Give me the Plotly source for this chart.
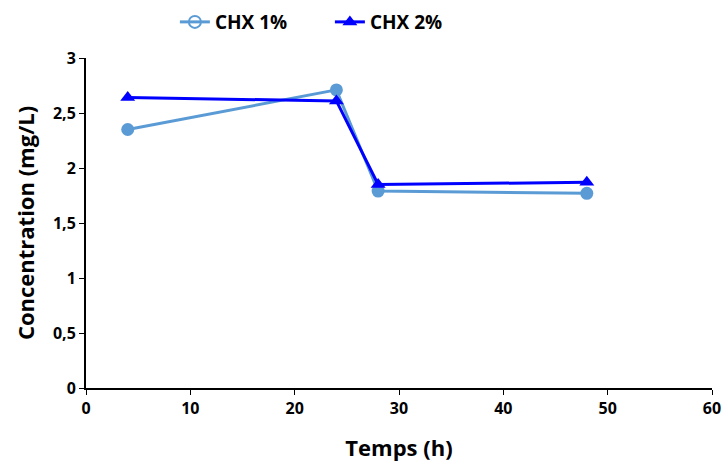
import plotly.graph_objects as go

hours = [4, 24, 28, 48]
chx1 = [2.35, 2.71, 1.79, 1.77]
chx2 = [2.64, 2.61, 1.85, 1.87]
x_ticks = [0, 10, 20, 30, 40, 50, 60]
y_ticks = [0, 0.5, 1, 1.5, 2, 2.5, 3]
y_labels = ["0", "0,5", "1", "1,5", "2", "2,5", "3"]

c1 = "#5B9BD5"
c2 = "#0000FF"
font = "Open Sans"

fig = go.Figure()
fig.add_trace(go.Scatter(x=hours, y=chx1, mode="lines+markers", name="CHX 1%",
                         line=dict(color=c1, width=3), marker=dict(symbol="circle", size=13, color=c1),
                         showlegend=False))
fig.add_trace(go.Scatter(x=[None], y=[None], mode="lines+markers", name="CHX 1%",
                         line=dict(color=c1, width=3),
                         marker=dict(symbol="circle-open", size=12, color=c1, line=dict(width=2))))
fig.add_trace(go.Scatter(x=hours, y=chx2, mode="lines+markers", name="CHX 2%",
                         line=dict(color=c2, width=3), marker=dict(symbol="triangle-up", size=13, color=c2)))

fig.update_layout(
    width=722, height=462,
    margin=dict(l=86, r=10, t=58, b=74, autoexpand=False),
    plot_bgcolor="white", paper_bgcolor="white",
    font=dict(family=font, size=14, color="black"),
    legend=dict(orientation="h", x=0.142, y=1.109, xanchor="left", yanchor="middle",
                font=dict(size=19, family=font, weight="bold"),
                entrywidthmode="pixels", entrywidth=110),
    xaxis=dict(range=[0, 60], tickvals=x_ticks, ticks="outside", ticklen=5, tickcolor="black",
               showline=True, linecolor="black", linewidth=2, showgrid=False, zeroline=False,
               tickfont=dict(size=16, weight="bold"),
               title=dict(text="Temps (h)", font=dict(size=22, weight="bold"), standoff=24)),
    yaxis=dict(range=[0, 3], tickvals=y_ticks, ticktext=y_labels, ticks="outside", ticklen=5,
               tickcolor="black", showline=True, linecolor="black", linewidth=2, showgrid=False,
               zeroline=False, tickfont=dict(size=16, weight="bold"),
               title=dict(text="Concentration (mg/L)", font=dict(size=22, weight="bold"), standoff=12)),
)
fig.write_html("out.html", config={"displayModeBar": False},
               post_script="document.body.style.margin='0';document.body.style.overflow='hidden';")
